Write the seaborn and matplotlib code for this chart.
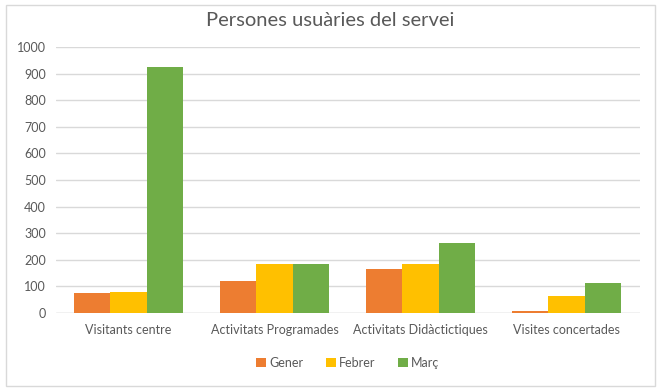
import numpy as np
import pandas as pd
import matplotlib
matplotlib.use('Agg')
import matplotlib.pyplot as plt
import seaborn as sns

categories = ['Visitants centre', 'Activitats Programades', 'Activitats Didàctictiques', 'Visites concertades']
months = ['Gener', 'Febrer', 'Març']
gener = [75, 119, 166, 7]
febrer = [79, 186, 186, 65]
marc = [925, 186, 265, 113]
colors = ['#ED7D31', '#FFC000', '#70AD47']

df = pd.DataFrame({
    'cat': categories * 3,
    'mes': [m for m in months for _ in categories],
    'val': gener + febrer + marc,
})

sns.set_style('white')
plt.rcParams['font.family'] = ['Lato', 'DejaVu Sans']

fig = plt.figure(figsize=(6.6, 3.91), dpi=100)
ax = fig.add_axes([55.5/660, 1-313/391, 584/660, 266/391])

sns.barplot(data=df, x='cat', y='val', hue='mes', palette=colors, width=0.75,
            saturation=1, linewidth=0, ax=ax, legend=True)

ax.set_xlim(-0.5, 3.5)
ax.set_ylim(0, 1000)
ax.set_yticks(range(0, 1001, 100))
ax.yaxis.grid(True, color='#D9D9D9', linewidth=1)
ax.set_axisbelow(True)
for s in ax.spines.values():
    s.set_visible(False)
ax.axhline(0, color='#D9D9D9', linewidth=1, zorder=0)
ax.set_xlabel('')
ax.set_ylabel('')
ax.tick_params(axis='both', length=0, labelsize=9, labelcolor='#595959')
ax.tick_params(axis='y', pad=7)
ax.tick_params(axis='x', pad=8)

ax.legend(loc='center', bbox_to_anchor=(0.5, -0.188), ncol=3, frameon=False,
          fontsize=9, labelcolor='#595959', handlelength=0.8, handleheight=0.8,
          handletextpad=0.25, columnspacing=1.8)

fig.text(0.5, 1-20/391, 'Persones usuàries del servei', ha='center', va='center',
         fontsize=14.5, color='#595959')

border = plt.Rectangle((6/660, 5/391), 649/660, 381/391, transform=fig.transFigure,
                       fill=False, edgecolor='#D9D9D9', linewidth=1)
fig.patches.append(border)

fig.savefig('out.png', dpi=100)
